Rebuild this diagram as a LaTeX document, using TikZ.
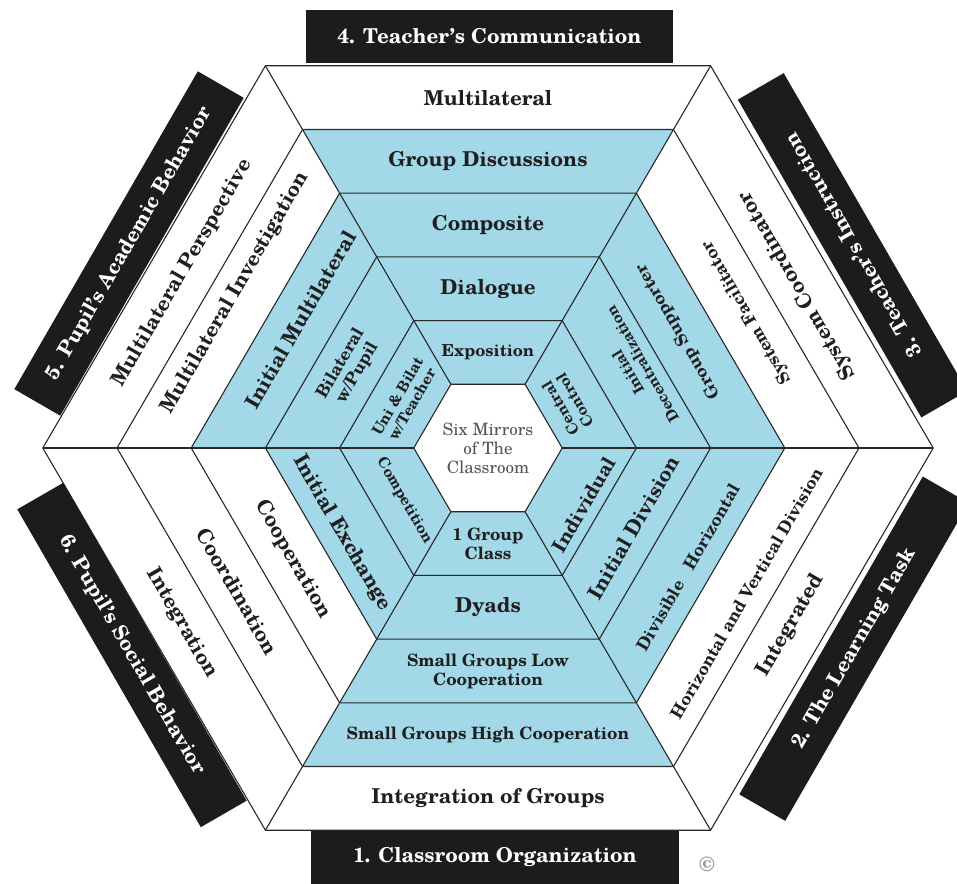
\documentclass[tikz,border=0pt]{standalone}
\usepackage{fontspec}
\setmainfont{TeX Gyre Schola}
\begin{document}
\begin{tikzpicture}[x=1pt,y=1pt,
  lbl/.style={align=center, inner sep=0pt, text=black!88},
  fbig/.style={font=\bfseries\fontsize{20.5}{23}\selectfont},
  fmid/.style={font=\bfseries\fontsize{17}{19}\selectfont},
  fsml/.style={font=\bfseries\fontsize{15}{16.5}\selectfont},
  tag/.style={fill=boxblack, text=white, inner sep=0pt,
    minimum width=367pt, minimum height=53pt,
    font=\bfseries\fontsize{20.5}{23}\selectfont},
  edge/.style={draw=inkline, line width=1.1pt, line join=miter}]
\definecolor{ringblue}{RGB}{162,216,231}
\definecolor{inkline}{RGB}{40,40,40}
\definecolor{boxblack}{RGB}{28,28,28}
\def\hexR{74.2}
\def\hexA{63.7}
\useasboundingbox (-488,-435) rectangle (469,448);
\clip (-488,-435) rectangle (469,448);

% vertices of the six concentric hexagons
\foreach \k in {1,...,6}{
  \coordinate (v\k-0) at ({\k*\hexR},0);
  \coordinate (v\k-1) at ({\k*\hexR/2},{\k*\hexA});
  \coordinate (v\k-2) at ({-\k*\hexR/2},{\k*\hexA});
  \coordinate (v\k-3) at ({-\k*\hexR},0);
  \coordinate (v\k-4) at ({-\k*\hexR/2},{-\k*\hexA});
  \coordinate (v\k-5) at ({\k*\hexR/2},{-\k*\hexA});
}

% shaded rings of each sector
\fill[ringblue] (v4-0) -- (v4-1) -- (v5-1) -- (v5-2) -- (v4-2) -- (v4-3)
  -- (v3-3) -- (v3-4) -- (v5-4) -- (v5-5) -- (v4-5) -- cycle;
\fill[white] (v1-0) -- (v1-1) -- (v1-2) -- (v1-3) -- (v1-4) -- (v1-5) -- cycle;

% hexagon outlines and spokes
\foreach \k in {1,...,6}{
  \draw[edge] (v\k-0) -- (v\k-1) -- (v\k-2) -- (v\k-3) -- (v\k-4) -- (v\k-5) -- cycle;
}
\foreach \j in {0,...,5}{
  \draw[edge] (v1-\j) -- (v6-\j);
}

% centre
\node[lbl, text=black!66, font=\fontsize{17}{19}\selectfont] (centre) at (0,0)
  {Six Mirrors\\of The\\Classroom};

% sector 4: teacher's communication (top)
\node[lbl,font=\bfseries\fontsize{16.5}{18}\selectfont] (s4r1) at (0,{\hexA*1.5}) {Exposition};
\node[lbl,fbig] (s4r2) at (0,{\hexA*2.5}) {Dialogue};
\node[lbl,fbig] (s4r3) at (0,{\hexA*3.5}) {Composite};
\node[lbl,fbig] (s4r4) at (0,{\hexA*4.5}) {Group Discussions};
\node[lbl,fbig] (s4r5) at (0,{\hexA*5.5}) {Multilateral};

% sector 1: classroom organization (bottom)
\node[lbl,fmid] (s1r1) at (0,{-\hexA*1.5}) {1 Group\\Class};
\node[lbl,fbig] (s1r2) at (0,{-\hexA*2.5}) {Dyads};
\node[lbl,fmid] (s1r3) at (0,{-\hexA*3.5}) {Small Groups Low\\Cooperation};
\node[lbl,fmid] (s1r4) at (0,{-\hexA*4.5}) {Small Groups High Cooperation};
\node[lbl,fbig] (s1r5) at (0,{-\hexA*5.5}) {Integration of Groups};

% sector 3: teacher's instruction (upper right)
\node[lbl,fsml,rotate=120] (s3r1) at ({0.75*\hexR*1.5-4},{0.5*\hexA*1.5-4}) {Central\\Control};
\node[lbl,fsml,rotate=120] (s3r2) at ({0.75*\hexR*2.5+8},{0.5*\hexA*2.5}) {Initial\\Decentralization};
\node[lbl,fmid,rotate=120] (s3r3) at ({0.75*\hexR*3.5-5},{0.5*\hexA*3.5+5}) {Group Supporter};
\node[lbl,fmid,rotate=120] (s3r4) at ({0.75*\hexR*4.5+8},{0.5*\hexA*4.5-8}) {System Facilitator};
\node[lbl,fbig,rotate=120] (s3r5) at ({0.75*\hexR*5.5+3},{0.5*\hexA*5.5-13}) {System Coordinator};

% sector 2: the learning task (lower right)
\node[lbl,font=\bfseries\fontsize{19.5}{22}\selectfont,rotate=60] (s2r1) at ({0.75*\hexR*1.5+12},{-0.5*\hexA*1.5-9}) {Individual};
\node[lbl,fbig,rotate=60] (s2r2) at ({0.75*\hexR*2.5+6},{-0.5*\hexA*2.5}) {Initial Division};
\node[lbl,fmid,rotate=60] (s2r3) at ({0.75*\hexR*3.5+5},{-0.5*\hexA*3.5-8}) {Divisible\hspace{0.9em}Horizontal};
\node[lbl,fmid,rotate=60] (s2r4) at ({0.75*\hexR*4.5+8},{-0.5*\hexA*4.5-2}) {Horizontal and Vertical Division};
\node[lbl,fbig,rotate=60] (s2r5) at ({0.75*\hexR*5.5-4},{-0.5*\hexA*5.5-2}) {Integrated};

% sector 6: pupil's social behavior (lower left)
\node[lbl,fsml,rotate=-60] (s6r1) at ({-0.75*\hexR*1.5},{-0.5*\hexA*1.5-5}) {Competition};
\node[lbl,fbig,rotate=-60] (s6r2) at ({-0.75*\hexR*2.5-7},{-0.5*\hexA*2.5-5}) {Initial Exchange};
\node[lbl,fbig,rotate=-60] (s6r3) at ({-0.75*\hexR*3.5},{-0.5*\hexA*3.5}) {Cooperation};
\node[lbl,fbig,rotate=-60] (s6r4) at ({-0.75*\hexR*4.5},{-0.5*\hexA*4.5}) {Coordination};
\node[lbl,fbig,rotate=-60] (s6r5) at ({-0.75*\hexR*5.5},{-0.5*\hexA*5.5}) {Integration};

% sector 5: pupil's academic behavior (upper left)
\node[lbl,fsml,rotate=60] (s5r1) at ({-0.75*\hexR*1.5},{0.5*\hexA*1.5}) {Uni \& Bilat\\w/Teacher};
\node[lbl,fmid,rotate=60] (s5r2) at ({-0.75*\hexR*2.5},{0.5*\hexA*2.5}) {Bilateral\\w/Pupil};
\node[lbl,fbig,rotate=60] (s5r3) at ({-0.75*\hexR*3.5+7},{0.5*\hexA*3.5+17}) {Initial Multilateral};
\node[lbl,fbig,rotate=60] (s5r4) at ({-0.75*\hexR*4.5-3},{0.5*\hexA*4.5+12}) {Multilateral Investigation};
\node[lbl,fbig,rotate=60] (s5r5) at ({-0.75*\hexR*5.5},{0.5*\hexA*5.5}) {Multilateral Perspective};

% headings on the outer edges
\node[tag] (t4) at (1.5,411.5) {4.\hspace{.4em}Teacher's Communication};
\node[tag,rotate=120] (t3) at (364.5,202.7) {3.\hspace{.4em}Teacher's Instruction};
\node[tag,rotate=60] (t2) at (366,-200.7) {2.\hspace{.4em}The Learning Task};
\node[tag] (t1) at (7,-409.5) {1.\hspace{.4em}Classroom Organization};
\node[tag,rotate=-60] (t6) at (-356,-207) {6.\hspace{.4em}Pupil's Social Behavior};
\node[tag,rotate=60] (t5) at (-359,204.5) {5.\hspace{.4em}Pupil's Academic Behavior};

% copyright mark
\node[text=black!42, font=\bfseries\fontsize{21}{22}\selectfont, inner sep=0pt] (copy) at (219,-416) {\textcopyright};
\end{tikzpicture}
\end{document}
